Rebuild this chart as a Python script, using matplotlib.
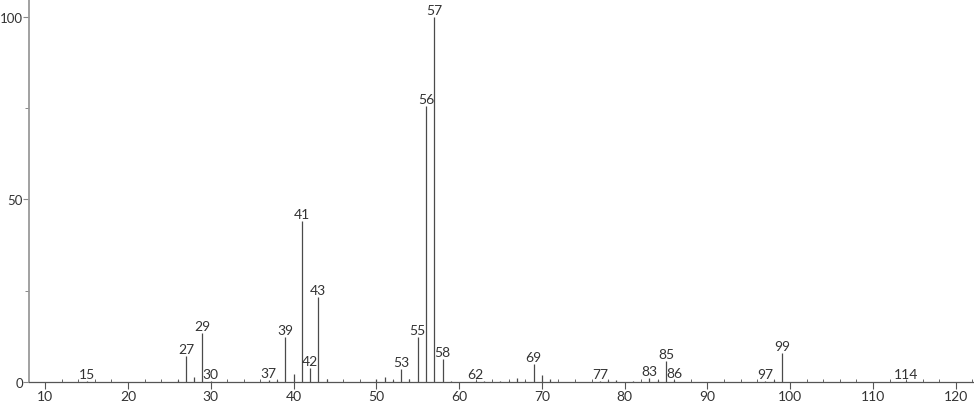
import matplotlib
matplotlib.use("Agg")
import matplotlib.pyplot as plt
from matplotlib.ticker import MultipleLocator

# m/z values and relative intensities
mz = [15, 26, 27, 28, 29, 30, 37, 38, 39, 40, 41, 42, 43, 44,
      50, 51, 52, 53, 54, 55, 56, 57, 58, 59, 62, 63,
      65, 66, 67, 68, 69, 70, 71, 77, 78, 79, 81,
      83, 84, 85, 86, 97, 98, 99, 114]
intensity = [0.3, 0.6, 7.2, 1.5, 13.4, 0.4, 0.6, 0.6, 12.2, 2.1, 44.1, 3.8, 23.2, 0.8,
             0.7, 1.3, 0.5, 3.6, 0.9, 12.2, 75.6, 100.0, 6.3, 0.3, 0.3, 0.4,
             0.4, 0.4, 1.2, 0.4, 4.9, 2.0, 0.8, 0.3, 0.5, 0.5, 0.3,
             1.1, 0.5, 5.8, 0.5, 0.4, 0.5, 7.9, 0.3]
labelled = [15, 27, 29, 30, 37, 39, 41, 42, 43, 53, 55, 56, 57, 58,
            62, 69, 77, 83, 85, 86, 97, 99, 114]

plt.rcParams['font.family'] = ['Lato', 'DejaVu Sans']

fig = plt.figure(figsize=(9.74, 4.06), dpi=100)
ax = fig.add_axes([0.0298, 0.0567, 0.9702, 0.9433])

ax.vlines(mz, 0, intensity, colors='#4a4a4a', linewidth=0.9)

for m, h in zip(mz, intensity):
    if m in labelled:
        ax.annotate(str(m), (m, h), xytext=(0, 3), textcoords='offset pixels',
                    ha='center', va='baseline', fontsize=10, color='#333333')

ax.set_xlim(8.05, 122.2)
ax.set_ylim(0, 104.9)

ax.spines['top'].set_visible(False)
ax.spines['right'].set_visible(False)
ax.spines['left'].set_color('#9a9a9a')
ax.spines['left'].set_linewidth(1.3)
ax.spines['bottom'].set_color('#555555')
ax.spines['bottom'].set_linewidth(0.9)

ax.xaxis.set_major_locator(MultipleLocator(10))
ax.xaxis.set_minor_locator(MultipleLocator(2))
ax.yaxis.set_major_locator(MultipleLocator(50))
ax.yaxis.set_minor_locator(MultipleLocator(25))

ax.tick_params(axis='x', which='major', direction='out', length=5, width=0.8,
               color='#555555', labelsize=10, labelcolor='#333333', pad=1)
ax.tick_params(axis='x', which='minor', direction='in', length=2.5, width=0.7,
               color='#666666')
ax.tick_params(axis='y', which='major', direction='out', length=4, width=0.8,
               color='#888888', labelsize=9.5, labelcolor='#333333', pad=0.3)
ax.tick_params(axis='y', which='minor', direction='out', length=3, width=0.7,
               color='#888888')

fig.savefig('out.png', dpi=100, facecolor='white')
